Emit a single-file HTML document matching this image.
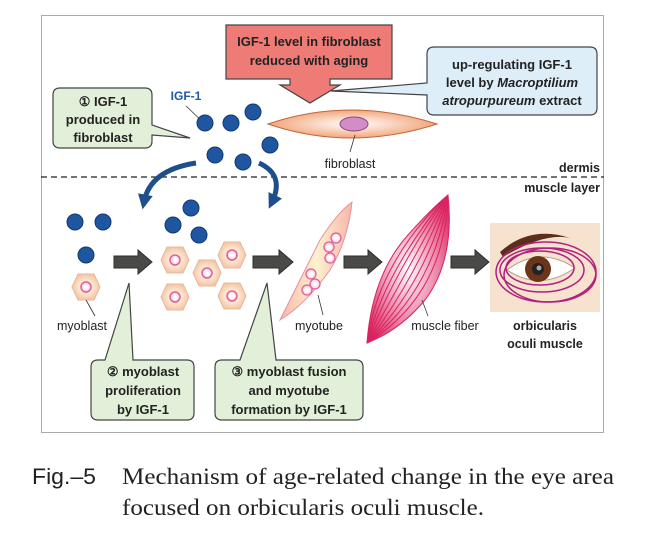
<!DOCTYPE html>
<html><head><meta charset="utf-8"><style>
html,body{margin:0;padding:0;background:#fff;}
svg{display:block;}
.b{font-family:"Liberation Sans",sans-serif;font-weight:bold;font-size:13px;fill:#222;}
.l{font-family:"Liberation Sans",sans-serif;font-weight:bold;font-size:12.5px;fill:#222;}
</style></head><body>
<svg width="656" height="549" viewBox="0 0 656 549" xmlns="http://www.w3.org/2000/svg">
<defs>
<radialGradient id="fib" cx="0.5" cy="0.5" r="0.5"><stop offset="0" stop-color="#fff"/><stop offset="1" stop-color="#f2a57a"/></radialGradient>
<radialGradient id="cell" cx="0.5" cy="0.5" r="0.5"><stop offset="0.3" stop-color="#fff3df"/><stop offset="1" stop-color="#f4c6a8"/></radialGradient>
<linearGradient id="tube" x1="0" y1="0" x2="1" y2="0"><stop offset="0" stop-color="#f6b7a8"/><stop offset="0.5" stop-color="#fdf2cf"/><stop offset="1" stop-color="#f6b7a8"/></linearGradient>
<radialGradient id="nuc" cx="0.5" cy="0.5" r="0.5"><stop offset="0.3" stop-color="#fff"/><stop offset="1" stop-color="#f7c8da"/></radialGradient>
<radialGradient id="mf" cx="0.5" cy="0.5" r="0.6"><stop offset="0" stop-color="#ffffff"/><stop offset="1" stop-color="#e0306a"/></radialGradient>
<marker id="ah" viewBox="0 0 10 10" refX="5" refY="5" markerWidth="3" markerHeight="3" orient="auto"><path d="M0,0 L10,5 L0,10 z" fill="#1f4e8c"/></marker>
<g id="c"><path d="M-8,-13 L8,-13 L14,0 L8,13 L-8,13 L-14,0 Z" fill="url(#cell)" stroke="#e8b89a" stroke-linejoin="round"/><circle r="5" fill="url(#nuc)" stroke="#e0609a" stroke-width="1.5"/></g>
</defs>
<rect x="41.5" y="15.5" width="562" height="417" fill="#fff" stroke="#aaa"/>

<!-- red callout -->
<path d="M226,25 H392 V79 H330 V85 H340 L310,103 L280,85 H290 V79 H226 Z" fill="#ef7b77" stroke="#444" stroke-width="1.2"/>
<text class="b" x="309" y="46" text-anchor="middle">IGF-1 level in fibroblast</text>
<text class="b" x="309" y="65" text-anchor="middle">reduced with aging</text>

<!-- blue callout -->
<path d="M434,47 H590 Q597,47 597,54 V108 Q597,115 590,115 H434 Q427,115 427,108 V95 L331,91 L427,83 V54 Q427,47 434,47 Z" fill="#ddeef8" stroke="#444" stroke-width="1.2"/>
<text class="b" x="512" y="69" text-anchor="middle">up-regulating IGF-1</text>
<text class="b" x="512" y="87" text-anchor="middle">level by <tspan font-style="italic">Macroptilium</tspan></text>
<text class="b" x="512" y="105" text-anchor="middle"><tspan font-style="italic">atropurpureum</tspan> extract</text>

<!-- green callout 1 -->
<path d="M60,88 H145 Q152,88 152,95 V125 L190,138 L152,135 V141 Q152,148 145,148 H60 Q53,148 53,141 V95 Q53,88 60,88 Z" fill="#e3f0d9" stroke="#444" stroke-width="1.2"/>
<text class="b" x="103" y="106" text-anchor="middle">① IGF-1</text>
<text class="b" x="103" y="124" text-anchor="middle">produced in</text>
<text class="b" x="103" y="142" text-anchor="middle">fibroblast</text>

<text x="186" y="100" text-anchor="middle" style="font-family:'Liberation Sans',sans-serif;font-weight:bold;font-size:12px;fill:#1f5aa6">IGF-1</text>
<line x1="186" y1="106" x2="205" y2="124" stroke="#333" stroke-width="0.8"/>
<g fill="#1f56a0" stroke="#123a70" stroke-width="1">
<circle cx="205" cy="123" r="8"/><circle cx="231" cy="123" r="8"/><circle cx="253" cy="112" r="8"/>
<circle cx="270" cy="145" r="8"/><circle cx="215" cy="155" r="8"/><circle cx="243" cy="162" r="8"/>
<circle cx="75" cy="222" r="8"/><circle cx="103" cy="222" r="8"/><circle cx="86" cy="255" r="8"/>
<circle cx="191" cy="208" r="8"/><circle cx="173" cy="225" r="8"/><circle cx="199" cy="235" r="8"/>
</g>

<!-- fibroblast -->
<path d="M268,124 Q350,96 437,124 Q350,152 268,124 Z" fill="url(#fib)" stroke="#c0653a" stroke-width="1"/>
<ellipse cx="354" cy="124" rx="14" ry="7" fill="#d48cc8" stroke="#8a4a80"/>
<line x1="355" y1="135" x2="350" y2="152" stroke="#333" stroke-width="0.8"/>
<text class="l" x="350" y="168" text-anchor="middle" style="font-weight:normal">fibroblast</text>

<line x1="41" y1="177" x2="604" y2="177" stroke="#222" stroke-width="1.3" stroke-dasharray="6,4"/>
<text class="l" x="600" y="172" text-anchor="end">dermis</text>
<text class="l" x="600" y="192" text-anchor="end">muscle layer</text>

<!-- curved arrows -->
<path d="M196,163 Q150,170 144,202" fill="none" stroke="#1f4e8c" stroke-width="5" marker-end="url(#ah)"/>
<path d="M259,163 Q285,175 272,202" fill="none" stroke="#1f4e8c" stroke-width="5" marker-end="url(#ah)"/>

<!-- myoblast cells -->
<use href="#c" x="86" y="287"/>
<use href="#c" x="175" y="260"/><use href="#c" x="232" y="255"/><use href="#c" x="207" y="273"/>
<use href="#c" x="175" y="297"/><use href="#c" x="232" y="296"/>
<line x1="86" y1="300" x2="95" y2="316" stroke="#333" stroke-width="0.8"/>
<text class="l" x="82" y="330" text-anchor="middle" style="font-weight:normal">myoblast</text>

<!-- gray arrows -->
<g fill="#4a4a48" stroke="#2d2d2b" stroke-width="1">
<path d="M114,256 H138 V250 L152,262 L138,274 V268 H114 Z"/>
<path d="M253,256 H279 V250 L293,262 L279,274 V268 H253 Z"/>
<path d="M344,256 H368 V250 L382,262 L368,274 V268 H344 Z"/>
<path d="M451,256 H475 V250 L489,262 L475,274 V268 H451 Z"/>
</g>

<!-- myotube -->
<path d="M280,320 Q300,280 320,240 Q338,212 352,202 Q348,240 330,270 Q305,305 280,320 Z" fill="url(#tube)" stroke="#eb8ea0" stroke-width="1"/>
<g fill="url(#nuc)" stroke="#e0609a" stroke-width="1.3">
<circle cx="336" cy="238" r="5"/><circle cx="329" cy="247" r="5"/><circle cx="330" cy="258" r="5"/>
<circle cx="311" cy="274" r="5"/><circle cx="315" cy="284" r="5"/><circle cx="307" cy="290" r="5"/>
</g>
<line x1="318" y1="295" x2="323" y2="315" stroke="#333" stroke-width="0.8"/>
<text class="l" x="319" y="330" text-anchor="middle" style="font-weight:normal">myotube</text>

<!-- muscle fiber -->
<path d="M367,343 Q372,275 408,235 Q430,210 448,195 Q455,260 425,300 Q400,330 367,343 Z" fill="url(#mf)" stroke="#d8245e" stroke-width="1"/>
<g fill="none" stroke="#d8245e" stroke-width="1">
<path d="M367,343 Q385,270 448,195"/><path d="M367,343 Q395,270 448,195"/><path d="M367,343 Q405,275 448,195"/>
<path d="M367,343 Q415,280 448,195"/><path d="M367,343 Q425,285 448,195"/><path d="M367,343 Q435,290 448,195"/>
<path d="M367,343 Q378,262 448,195"/><path d="M367,343 Q445,295 448,195"/>
</g>
<line x1="422" y1="300" x2="428" y2="316" stroke="#333" stroke-width="0.8"/>
<text class="l" x="445" y="330" text-anchor="middle" style="font-weight:normal">muscle fiber</text>

<!-- eye -->
<rect x="490" y="223" width="110" height="89" fill="#f7e2cf"/>
<path d="M500,252 Q530,225 570,238 Q545,232 503,257 Z" fill="#5a2e1a"/>
<path d="M507,270 Q540,245 575,268 Q540,292 507,270 Z" fill="#fff" stroke="#b89a88"/>
<circle cx="538" cy="269" r="13" fill="#6b3518"/><circle cx="538" cy="269" r="6" fill="#222"/><circle cx="539" cy="268" r="2.5" fill="#aaa"/>
<g fill="none" stroke="#b0207e" stroke-width="1.5">
<ellipse cx="542" cy="270" rx="42" ry="22"/><ellipse cx="546" cy="272" rx="50" ry="30"/><ellipse cx="540" cy="268" rx="34" ry="17"/><ellipse cx="550" cy="275" rx="46" ry="27"/>
</g>
<text class="l" x="545" y="330" text-anchor="middle">orbicularis</text>
<text class="l" x="545" y="348" text-anchor="middle">oculi muscle</text>

<!-- callout 2 -->
<path d="M98,360 H105 L129,283 L133,360 H187 Q194,360 194,367 V413 Q194,420 187,420 H98 Q91,420 91,413 V367 Q91,360 98,360 Z" fill="#e3f0d9" stroke="#444" stroke-width="1.2"/>
<text class="b" x="143" y="376" text-anchor="middle">② myoblast</text>
<text class="b" x="143" y="395" text-anchor="middle">proliferation</text>
<text class="b" x="143" y="414" text-anchor="middle">by IGF-1</text>

<!-- callout 3 -->
<path d="M222,360 H240 L267,283 L276,360 H356 Q363,360 363,367 V413 Q363,420 356,420 H222 Q215,420 215,413 V367 Q215,360 222,360 Z" fill="#e3f0d9" stroke="#444" stroke-width="1.2"/>
<text class="b" x="289" y="376" text-anchor="middle">③ myoblast  fusion</text>
<text class="b" x="289" y="395" text-anchor="middle">and myotube</text>
<text class="b" x="289" y="414" text-anchor="middle">formation by IGF-1</text>

<!-- caption -->
<text x="32" y="484" style="font-family:'Liberation Sans',sans-serif;font-size:22px;fill:#222" textLength="64" lengthAdjust="spacingAndGlyphs">Fig.–5</text>
<text x="122" y="484" style="font-family:'Liberation Serif',serif;font-size:23px;fill:#222" textLength="492" lengthAdjust="spacingAndGlyphs">Mechanism of age-related change in the eye area</text>
<text x="122" y="515" style="font-family:'Liberation Serif',serif;font-size:23px;fill:#222" textLength="362" lengthAdjust="spacingAndGlyphs">focused on orbicularis oculi muscle.</text>
</svg>
</body></html>
